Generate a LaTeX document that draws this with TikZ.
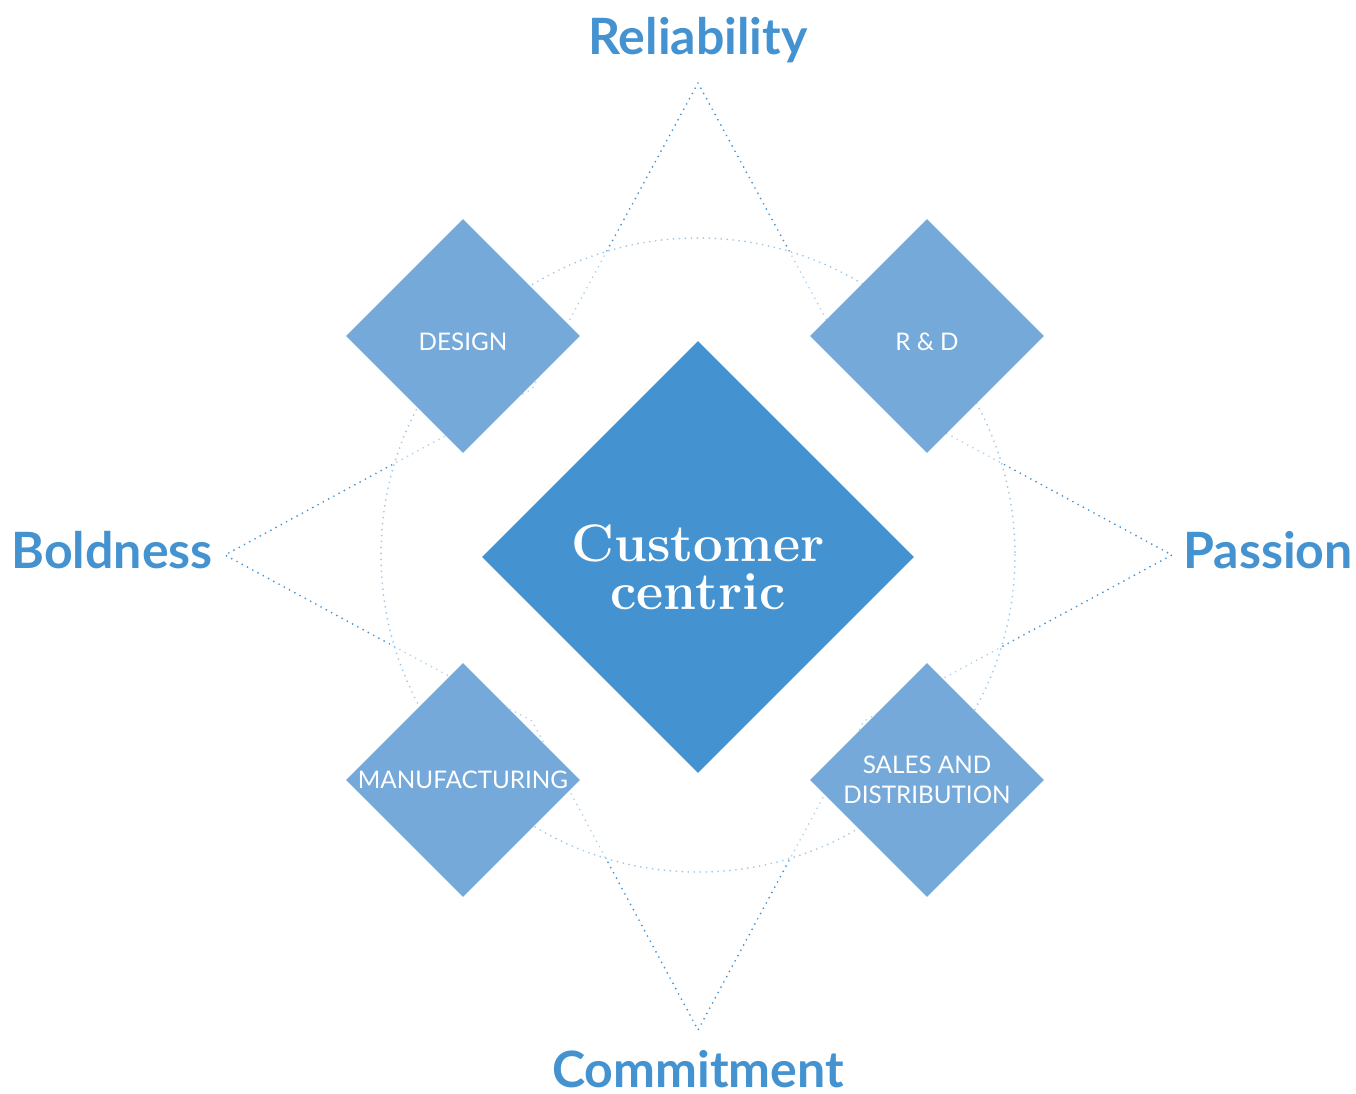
\documentclass[tikz,border=0pt]{standalone}
\usepackage{fontspec}
\usepackage{xcolor}
\usetikzlibrary{shapes.geometric, positioning}
\newfontfamily\labelfont{Lato}
\definecolor{coreColor}{RGB}{68,147,208}
\definecolor{deptColor}{RGB}{117,169,218}
\tikzset{
    corebox/.style={
        diamond,
        aspect=1,
        fill=coreColor,
        inner sep=0pt,
        minimum size=8.64cm
    },
    coretext/.style={
        text=white,
        inner sep=0pt,
        align=center,
        font=\fontsize{30}{27.5}\selectfont\bfseries
    },
    deptbox/.style={
        diamond,
        aspect=1,
        fill=deptColor,
        inner sep=0pt,
        minimum size=4.68cm,
        text=white,
        align=center,
        font=\labelfont\fontsize{13.8}{17}\selectfont
    },
    onerow/.style={
        text height=16.8pt,
        text depth=0pt
    },
    valuelabel/.style={
        text=coreColor,
        inner sep=0pt,
        font=\labelfont\bfseries\fontsize{28.5}{32}\selectfont
    },
    starline/.style={
        coreColor,
        line width=1.1pt,
        line cap=round,
        dash pattern=on 0pt off 3.4pt
    },
    ringline/.style={
        coreColor!50,
        line width=1.1pt,
        line cap=round,
        dash pattern=on 0pt off 3.4pt
    }
}

\begin{document}
\begin{tikzpicture}[x=0.02cm, y=-0.02cm]
    \useasboundingbox (0,0) rectangle (1356,1094);

    % star points
    \coordinate (tipN) at (698,83);
    \coordinate (tipE) at (1172,555);
    \coordinate (tipS) at (698,1030);
    \coordinate (tipW) at (225,555);
    \coordinate (cNE) at (864,389);
    \coordinate (cSE) at (864,721);
    \coordinate (cSW) at (532,721);
    \coordinate (cNW) at (532,389);
    \coordinate (hub) at (698,555);

    \draw[starline] (tipN) -- (cNE) -- (tipE) -- (cSE) -- (tipS) -- (cSW) -- (tipW) -- (cNW) -- cycle;

    % ring, fades the star inside it
    \fill[white, opacity=0.6] (hub) circle[radius=317];
    \draw[ringline] (hub) circle[radius=317];

    % diamonds
    \node[corebox] (core) at (698,557) {};
    \node[coretext] (coreText) at (698,567) {Customer\\centric};
    \node[deptbox, onerow] (design) at (463,336) {DESIGN};
    \node[deptbox, onerow] (rnd) at (927,336) {R \& D};
    \node[deptbox] (manuf) at (463,780) {MANUFACTURING};
    \node[deptbox] (sales) at (927,780) {SALES AND\\DISTRIBUTION};

    % values
    \node[valuelabel, anchor=base] (reliability) at (698,55) {Reliability};
    \node[valuelabel, anchor=base] (passion) at (1268,569) {Passion};
    \node[valuelabel, anchor=base] (commitment) at (698,1087) {Commitment};
    \node[valuelabel, anchor=base] (boldness) at (112,569) {Boldness};
\end{tikzpicture}
\end{document}
